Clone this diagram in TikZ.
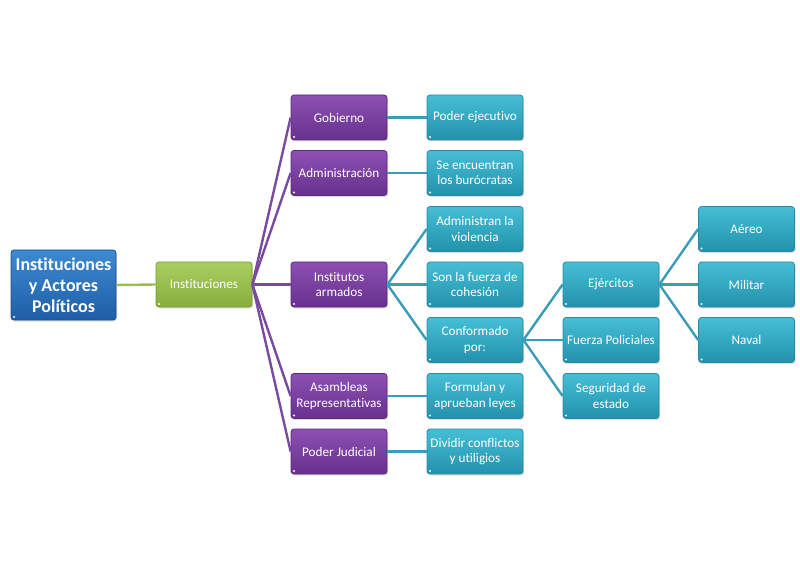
\documentclass[tikz,border=0pt]{standalone}
\usepackage{fontspec}
\setmainfont{Carlito}[Ligatures=NoCommon]
\usetikzlibrary{shadows}
\definecolor{cyTop}{HTML}{45BFD6}
\definecolor{cyBot}{HTML}{2391AC}
\definecolor{cyBrd}{HTML}{2A8AA4}
\definecolor{puTop}{HTML}{8C50B2}
\definecolor{puBot}{HTML}{68318E}
\definecolor{puBrd}{HTML}{5A287E}
\definecolor{grTop}{HTML}{AACF5F}
\definecolor{grBot}{HTML}{86AD3E}
\definecolor{grBrd}{HTML}{789D36}
\definecolor{blTop}{HTML}{3D8AD2}
\definecolor{blBot}{HTML}{1E5EA6}
\definecolor{blBrd}{HTML}{1A4E88}
\definecolor{lnCy}{HTML}{3A9DB8}
\definecolor{lnPu}{HTML}{7A4A9E}
\definecolor{lnGr}{HTML}{9BBB59}
\tikzset{
  box/.style={rounded corners=3pt, minimum width=96pt, minimum height=45pt,
    align=center, text=white, inner sep=1pt, line width=0.8pt,
    font=\fontsize{13.2}{15.5}\selectfont,
    drop shadow={shadow xshift=1pt, shadow yshift=-1.5pt, opacity=0.25},
    path picture={\fill[white] ([shift={(3pt,3pt)}]path picture bounding box.south west) circle (1.1pt);}},
  cybox/.style={box, draw=cyBrd, top color=cyTop, bottom color=cyBot},
  pubox/.style={box, draw=puBrd, top color=puTop, bottom color=puBot},
  grbox/.style={box, draw=grBrd, top color=grTop, bottom color=grBot},
  rootbox/.style={box, draw=blBrd, top color=blTop, bottom color=blBot,
    minimum width=105pt, minimum height=70pt,
    font=\fontsize{18}{21}\selectfont\bfseries},
  cyline/.style={draw=lnCy, line width=2.4pt},
  puline/.style={draw=lnPu, line width=2.4pt},
  grline/.style={draw=lnGr, line width=2.4pt},
}
\begin{document}
\begin{tikzpicture}[x=1pt,y=-1pt]
\useasboundingbox (0,0) rectangle (800,569);
% connectors (drawn first, behind boxes)
\coordinate (c0) at (116,285);
\node[rootbox] (root) at (63.5,285) {Instituciones\\y Actores\\Políticos};
\node[grbox] (inst) at (204,284.5) {Instituciones};
\node[pubox] (gob) at (339,117.5) {Gobierno};
\node[pubox] (adm) at (339,173) {Administración};
\node[pubox] (arm) at (339,284.5) {Institutos\\armados};
\node[pubox] (asa) at (339,396) {Asambleas\\Representativas};
\node[pubox] (jud) at (339,451.5) {Poder Judicial};
\node[cybox] (eje) at (475,117.5) {Poder ejecutivo};
\node[cybox] (bur) at (475,173) {Se encuentran\\los burócratas};
\node[cybox] (vio) at (475,229) {Administran la\\violencia};
\node[cybox] (coh) at (475,284.5) {Son la fuerza de\\cohesión};
\node[cybox] (con) at (475,340) {Conformado\\por:};
\node[cybox] (ley) at (475,396) {Formulan y\\aprueban leyes};
\node[cybox] (div) at (475,451.5) {Dividir conflictos\\y utiligios};
\node[cybox] (ejc) at (611,284.5) {Ejércitos};
\node[cybox] (pol) at (611,340) {Fuerza Policiales};
\node[cybox] (seg) at (611,396) {Seguridad de\\estado};
\node[cybox] (aer) at (746.5,229) {Aéreo};
\node[cybox] (mil) at (746.5,284.5) {Militar};
\node[cybox] (nav) at (746.5,340) {Naval};
\path[grline] (root.east) -- (inst.west);
\foreach \t in {gob,adm,arm,asa,jud} \path[puline] (inst.east) -- (\t.west);
\path[cyline] (gob.east) -- (eje.west);
\path[cyline] (adm.east) -- (bur.west);
\foreach \t in {vio,coh,con} \path[cyline] (arm.east) -- (\t.west);
\path[cyline] (asa.east) -- (ley.west);
\path[cyline] (jud.east) -- (div.west);
\foreach \t in {ejc,pol,seg} \path[cyline] (con.east) -- (\t.west);
\foreach \t in {aer,mil,nav} \path[cyline] (ejc.east) -- (\t.west);
\end{tikzpicture}
\end{document}
